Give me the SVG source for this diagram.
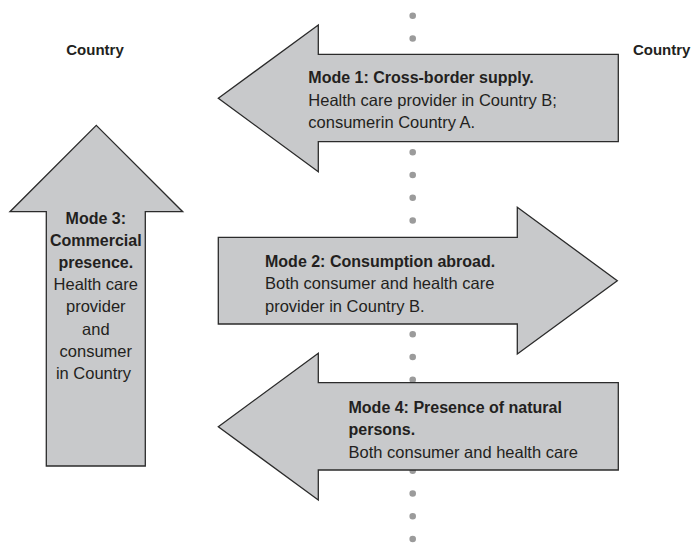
<svg xmlns="http://www.w3.org/2000/svg" width="692" height="543" viewBox="0 0 692 543">
<style>
.arrow{fill:#c8c9cb;stroke:#2b2b2b;stroke-width:1.3;stroke-linejoin:miter}
.t{font-family:"Liberation Sans",Arial,sans-serif;font-size:16.5px;fill:#231f20}
.b{font-weight:bold;font-size:16px}
.lbl{font-family:"Liberation Sans",Arial,sans-serif;font-size:15px;font-weight:bold;fill:#231f20}
.c{text-anchor:middle}
</style>
<rect width="692" height="543" fill="#ffffff"/>
<g id="connectors">
<line x1="412.7" y1="15.8" x2="412.7" y2="539.1" stroke="#9b9b9b" stroke-width="6.6" stroke-linecap="round" stroke-dasharray="0 22.75"/>
</g>
<g id="label-country-left"><text class="lbl c" x="95" y="55">Country</text></g>
<g id="label-country-right"><text class="lbl c" x="661.7" y="55">Country</text></g>
<g id="mode1">
<polygon class="arrow" points="218.3,98.3 318.3,25 318.3,54.3 618.3,54.3 618.3,141.7 318.3,141.7 318.3,171.7"/>
<text class="t b" x="308.3" y="83">Mode 1: Cross-border supply.</text>
<text class="t" x="308.3" y="105.5">Health care provider in Country B;</text>
<text class="t" x="308.3" y="128">consumerin Country A.</text>
</g>
<g id="mode2">
<polygon class="arrow" points="218.3,237.3 517.3,237.3 517.3,207.3 617.3,280.7 517.3,354 517.3,324 218.3,324"/>
<text class="t b" x="265" y="267">Mode 2: Consumption abroad.</text>
<text class="t" x="265" y="289.3">Both consumer and health care</text>
<text class="t" x="265" y="311.6">provider in Country B.</text>
</g>
<g id="mode3">
<polygon class="arrow" points="96.3,125.4 182.7,211.7 145.3,211.7 145.3,466 46.3,466 46.3,211.7 10,211.7"/>
<text class="t b c" x="95.8" y="224">Mode 3:</text>
<text class="t b c" x="95.8" y="246.1">Commercial</text>
<text class="t b c" x="95.8" y="268.2">presence.</text>
<text class="t c" x="95.8" y="290.3">Health care</text>
<text class="t c" x="95.8" y="312.4">provider</text>
<text class="t c" x="95.8" y="334.5">and</text>
<text class="t c" x="95.8" y="356.6">consumer</text>
<text class="t c" x="93.5" y="378.7">in Country</text>
</g>
<g id="mode4">
<polygon class="arrow" points="218.3,426.7 318.3,353.3 318.3,382.7 618.3,382.7 618.3,470 318.3,470 318.3,500"/>
<text class="t b" x="348.5" y="413">Mode 4: Presence of natural</text>
<text class="t b" x="348.5" y="435.3">persons.</text>
<text class="t" x="348.5" y="457.6">Both consumer and health care</text>
</g>
</svg>
